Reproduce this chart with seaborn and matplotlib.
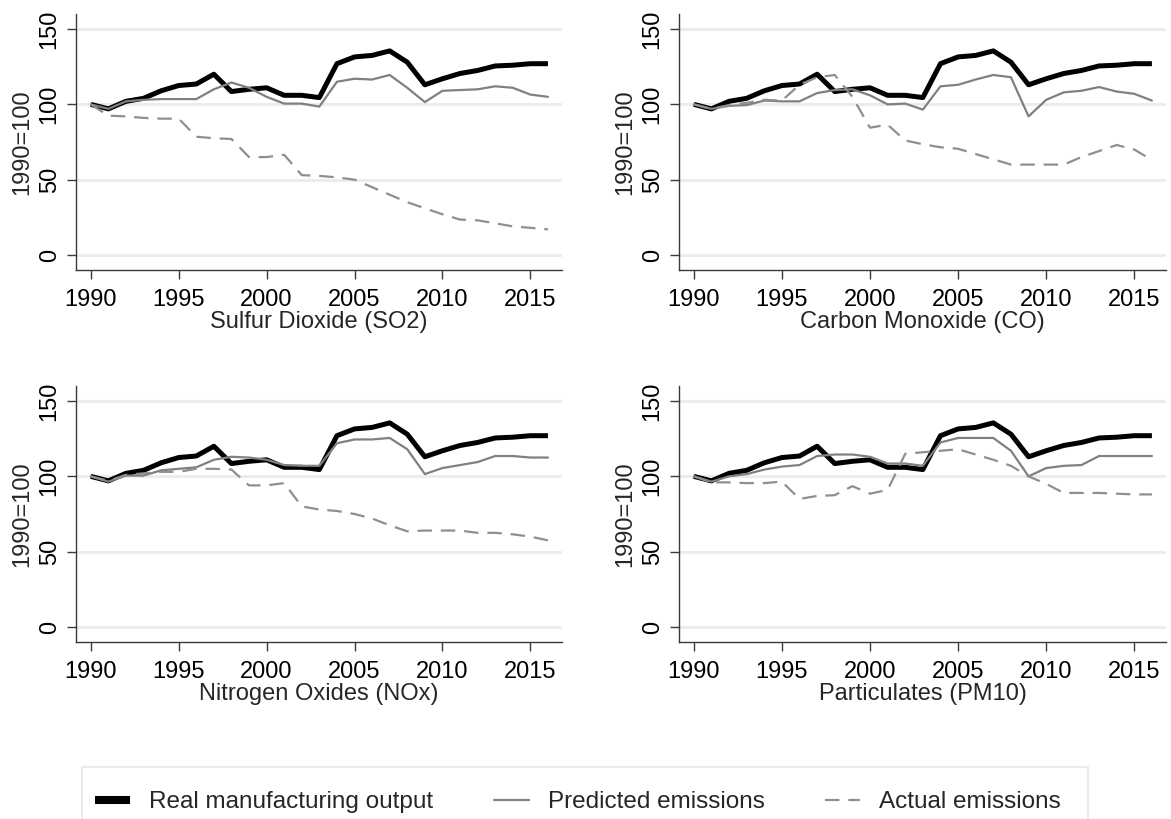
import matplotlib
matplotlib.use("Agg")
import matplotlib.pyplot as plt
from matplotlib.lines import Line2D
from matplotlib.patches import Rectangle
import pandas as pd
import seaborn as sns

# ---- data (index, 1990 = 100) ----
years = list(range(1990, 2017))

real_output = [100, 97, 102, 104, 109, 112.5, 113.5, 120, 108.5, 110, 111, 106, 106,
               104.5, 127, 131.5, 132.5, 135.5, 128, 113, 117, 120.5, 122.5, 125.5,
               126, 127, 127]

so2_predicted = [100, 97, 102, 103, 103.5, 103.5, 103.5, 110, 114.5, 111, 105, 100.5,
                 100.5, 98.5, 115, 117, 116.5, 119.5, 111, 101.5, 109, 109.5, 110, 112,
                 111, 106.5, 105]
so2_actual = [100, 92.5, 92, 91, 90.5, 90.5, 78.5, 77.5, 77, 65, 65, 66.5, 53, 52.5,
              51.5, 50, 45, 40, 35, 31, 27, 23.5, 23, 21, 19, 18, 17]

co_predicted = [100, 97, 99, 99.5, 102.5, 102, 102, 107.5, 109.5, 110, 106, 100, 100.5,
                96.5, 112, 113, 116.5, 119.5, 118, 92, 103, 108, 109, 111.5, 108.5, 107,
                102.5]
co_actual = [100, 97, 99.5, 101, 103, 102.5, 113, 118, 119.5, 105, 84.5, 86.5, 76, 73.5,
             71.5, 70.5, 67, 63.5, 60, 60, 60, 60, 65, 69, 73, 70, 63]

nox_predicted = [100, 96.5, 100.5, 100.5, 104, 105, 106, 111, 113, 112.5, 111, 107.5,
                 107, 107, 122, 124.5, 124.5, 125.5, 118, 101.5, 105.5, 107.5, 109.5,
                 113.5, 113.5, 112.5, 112.5]
nox_actual = [100, 97, 101, 102, 103, 103, 105, 105, 104.5, 94, 94, 95.5, 80, 78, 77,
              75, 72, 67.5, 63.5, 64, 64, 64, 62.5, 62.5, 61.5, 60, 57.5]

pm10_predicted = [100, 96.5, 100, 101.5, 104.5, 106.5, 107.5, 113.5, 114.5, 114.5, 113,
                  108.5, 108.5, 107, 122.5, 125.5, 125.5, 125.5, 117, 100, 105.5, 107,
                  107.5, 113.5, 113.5, 113.5, 113.5]
pm10_actual = [100, 96, 96, 95.5, 95.5, 96.5, 85, 87, 87.5, 93.5, 88.5, 91, 115, 116,
               117, 118, 114.5, 111, 107, 100, 95, 89, 89, 89, 88.5, 88, 88]

panel_titles = ["Sulfur Dioxide (SO2)", "Carbon Monoxide (CO)",
                "Nitrogen Oxides (NOx)", "Particulates (PM10)"]
predicted_series = [so2_predicted, co_predicted, nox_predicted, pm10_predicted]
actual_series = [so2_actual, co_actual, nox_actual, pm10_actual]

series_labels = ["Real manufacturing output", "Predicted emissions", "Actual emissions"]
y_ticks = [0, 50, 100, 150]
x_ticks = [1990, 1995, 2000, 2005, 2010, 2015]

# ---- style ----
sns.set_style("white")
plt.rcParams["font.family"] = ["Liberation Sans", "DejaVu Sans"]
FS = 17
LEG_FS = 17.5
REAL_C, PRED_C, ACT_C = "black", "#808080", "#8f8f8f"
REAL_LW, PRED_LW, ACT_LW = 3.6, 1.6, 1.6
DASH = (0, (6.5, 4))
GRID_C = "#E6EEF1"
SPINE_C = "#3a3a3a"

W, H = 1171, 819
fig = plt.figure(figsize=(W / 100, H / 100), dpi=100)
fig.patch.set_facecolor("white")

# panel boxes in pixels: left, top, right, bottom
boxes = [(76, 14, 562, 270), (679, 14, 1166, 270),
         (76, 386, 562, 642), (679, 386, 1166, 642)]

for (l, t, r, b), title, pred, act in zip(boxes, panel_titles, predicted_series, actual_series):
    ax = fig.add_axes([l / W, 1 - b / H, (r - l) / W, (b - t) / H])
    df = pd.DataFrame({"year": years, "real": real_output, "pred": pred, "act": act})
    sns.lineplot(data=df, x="year", y="real", ax=ax, color=REAL_C, lw=REAL_LW,
                 estimator=None, solid_joinstyle="round", solid_capstyle="butt")
    sns.lineplot(data=df, x="year", y="pred", ax=ax, color=PRED_C, lw=PRED_LW,
                 estimator=None)
    sns.lineplot(data=df, x="year", y="act", ax=ax, color=ACT_C, lw=ACT_LW,
                 linestyle=DASH, estimator=None)

    ax.set_xlim(1989.16, 2016.8)
    ax.set_ylim(-10, 160)
    ax.set_yticks(y_ticks)
    ax.set_xticks(x_ticks)
    ax.set_yticklabels([str(v) for v in y_ticks])
    ax.set_xticklabels([str(v) for v in x_ticks])
    ax.grid(axis="y", color=GRID_C, lw=2.2)
    ax.grid(axis="x", visible=False)
    ax.set_axisbelow(True)

    for side in ("top", "right"):
        ax.spines[side].set_visible(False)
    for side in ("left", "bottom"):
        ax.spines[side].set_color(SPINE_C)
        ax.spines[side].set_linewidth(1.0)

    ax.tick_params(axis="both", which="major", direction="out", length=6.5,
                   width=1.0, color=SPINE_C, labelsize=FS, labelcolor="black",
                   left=True, bottom=True)
    ax.tick_params(axis="x", pad=7.5)
    ax.tick_params(axis="y", pad=4.5, labelrotation=90)
    for lab in ax.get_yticklabels():
        lab.set_va("center")

    ax.set_xlabel(title, fontsize=FS, labelpad=0)
    ax.set_ylabel("1990=100", fontsize=FS, labelpad=3.6)

# ---- legend ----
handles = [Line2D([], [], color=REAL_C, lw=5.8, solid_capstyle="butt"),
           Line2D([], [], color=PRED_C, lw=PRED_LW),
           Line2D([], [], color=ACT_C, lw=ACT_LW, linestyle=DASH)]
fig.legend(handles, series_labels, loc="center left",
           bbox_to_anchor=(95 / W, 1 - 802 / H), ncol=3, frameon=False,
           fontsize=LEG_FS, handlelength=1.44, handletextpad=0.78, columnspacing=2.5,
           borderpad=0, borderaxespad=0)
fig.patches.append(Rectangle((82 / W, -0.05), (1088 - 82) / W, (1 - 767 / H) + 0.05,
                             transform=fig.transFigure, fill=False,
                             ec="#E2EAED", lw=1.2))

fig.savefig("out.png", dpi=100, facecolor="white")
